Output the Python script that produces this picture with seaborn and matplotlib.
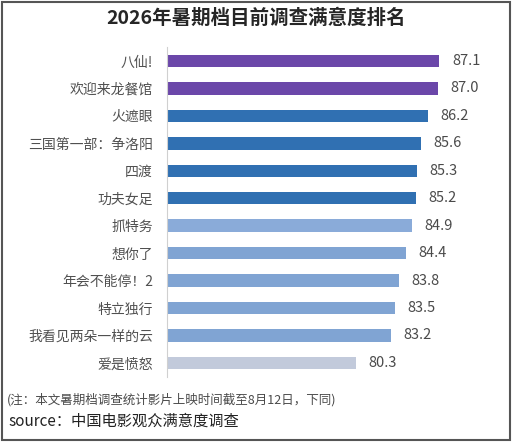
import matplotlib.pyplot as plt
import seaborn as sns
from matplotlib.patches import Rectangle

films = ["八仙!", "欢迎来龙餐馆", "火遮眼", "三国第一部：争洛阳", "四渡", "功夫女足",
         "抓特务", "想你了", "年会不能停！2", "特立独行", "我看见两朵一样的云", "爱是愤怒"]
scores = [87.1, 87.0, 86.2, 85.6, 85.3, 85.2, 84.9, 84.4, 83.8, 83.5, 83.2, 80.3]
bar_colors = ["#6b47a9", "#6b47a9", "#3070b2", "#3070b2", "#3070b2", "#3070b2",
              "#8aabd9", "#80a4d3", "#80a4d3", "#80a4d3", "#80a4d3", "#c2cadb"]

sns.set_style("white")
plt.rcParams["font.family"] = ["Noto Sans CJK SC", "DejaVu Sans"]

fig = plt.figure(figsize=(5.12, 4.42), dpi=100)
ax = fig.add_axes([0.326, 0.148, 0.602, 0.745])

sns.barplot(x=scores, y=films, hue=films, palette=bar_colors, legend=False,
            width=0.45, linewidth=0, saturation=1, orient="h", ax=ax)

for cont in ax.containers:
    ax.bar_label(cont, fmt="%.1f", padding=9, fontsize=10.5, color="#4a4a4a")

ax.set_xlim(65, 90)
ax.set_ylim(11.5, -0.5)
ax.set_xticks([])
ax.set_xlabel("")
ax.set_ylabel("")
ax.tick_params(axis="y", length=0, pad=10, labelsize=10, labelcolor="#505050")
for s in ["top", "right", "bottom"]:
    ax.spines[s].set_visible(False)
ax.spines["left"].set_color("#d0d0d0")
ax.spines["left"].set_linewidth(0.8)

fig.text(0.5, 0.958, "2026年暑期档目前调查满意度排名", ha="center", va="center",
         fontsize=14, fontweight="bold", color="#262626")
fig.text(0.013, 0.095, "(注：本文暑期档调查统计影片上映时间截至8月12日，下同)",
         ha="left", va="center", fontsize=9, style="italic", color="#4a4a4a")
fig.text(0.017, 0.047, "source：中国电影观众满意度调查", ha="left", va="center",
         fontsize=11, color="#222222")

fig.patches.append(Rectangle((0.003, 0.004), 0.994, 0.992, transform=fig.transFigure,
                             fill=False, edgecolor="#555555", linewidth=1.5))

fig.savefig("out.png", dpi=100)
